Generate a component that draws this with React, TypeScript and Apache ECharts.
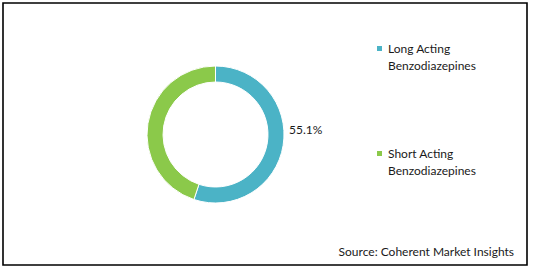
import React, { useEffect, useRef } from "react";
import * as echarts from "echarts";

const categories = ["Long Acting\nBenzodiazepines", "Short Acting\nBenzodiazepines"];
const values = [55.1, 44.9];
const colors = ["#4BB3C6", "#8BC94A"];
const sourceText = "Source: Coherent Market Insights";

export default function App() {
  const ref = useRef<HTMLDivElement>(null);
  useEffect(() => {
    if (!ref.current) return;
    const chart = echarts.init(ref.current, undefined, { renderer: "svg" });
    const font = "Lato, 'Open Sans', sans-serif";
    chart.setOption({
      animation: false,
      backgroundColor: "#ffffff",
      textStyle: { fontFamily: font },
      color: colors,
      legend: {
        orient: "vertical",
        left: 375,
        top: 23,
        padding: 0,
        itemWidth: 7,
        itemHeight: 7,
        itemGap: 54,
        icon: "rect",
        selectedMode: false,
        data: categories,
        formatter: (name: string) => " \n" + name,
        textStyle: {
          fontFamily: font,
          fontSize: 12,
          lineHeight: 17,
          color: "#1a1a1a",
        },
      },
      graphic: [
        {
          type: "rect",
          shape: { x: 3, y: 3, width: 524, height: 262 },
          style: { fill: "none", stroke: "#000", lineWidth: 1.6 },
          silent: true,
        },
        {
          type: "text",
          right: 19,
          top: 245,
          style: {
            text: sourceText,
            font: `12px ${font}`,
            fill: "#1a1a1a",
          },
        },
      ],
      series: [
        {
          type: "pie",
          center: [215.5, 134.5],
          radius: [52.5, 68.5],
          startAngle: 90,
          clockwise: true,
          avoidLabelOverlap: false,
          itemStyle: { borderColor: "#ffffff", borderWidth: 1 },
          emphasis: { disabled: true },
          label: { show: false },
          labelLine: { show: false },
          labelLayout: { x: 289, y: 129, align: "left", verticalAlign: "middle" },
          data: categories.map((name, i) => ({
            name,
            value: values[i],
            label:
              i === 0
                ? {
                    show: true,
                    position: "outside",
                    formatter: (p: any) => `${p.value}%`,
                    fontFamily: font,
                    fontSize: 12,
                    color: "#1a1a1a",
                  }
                : { show: false },
          })),
        },
      ],
    });
    return () => chart.dispose();
  }, []);
  return (
    <div
      ref={ref}
      style={{ position: "fixed", left: 0, top: 0, width: 533, height: 270 }}
    />
  );
}
